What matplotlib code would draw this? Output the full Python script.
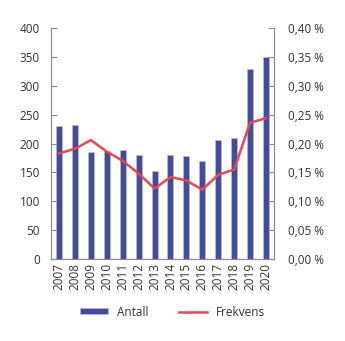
import matplotlib.pyplot as plt
from matplotlib.lines import Line2D
from matplotlib.patches import Patch

years = [str(y) for y in range(2007, 2021)]
antall = [231, 233, 185, 187, 189, 181, 153, 181, 178, 169, 206, 209, 329, 350]
frekvens = [0.183, 0.191, 0.206, 0.186, 0.170, 0.148, 0.122, 0.142, 0.136, 0.120, 0.146, 0.155, 0.236, 0.244]

left_ticks = [0, 50, 100, 150, 200, 250, 300, 350, 400]
right_ticks = [0.0, 0.05, 0.10, 0.15, 0.20, 0.25, 0.30, 0.35, 0.40]

bar_color = "#434c9b"
line_color = "#e8474f"
text_color = "#333333"
spine_color = "#8c8c8c"

plt.rcParams["font.family"] = ["Open Sans", "DejaVu Sans"]
plt.rcParams["font.size"] = 8

fig = plt.figure(figsize=(3.45, 3.41), dpi=100)
ax = fig.add_axes([0.148, 0.2405, 0.646, 0.677])
ax2 = ax.twinx()

x = list(range(len(years)))
ax.bar(x, antall, width=0.38, color=bar_color, edgecolor="#b9bde0", linewidth=0.4, zorder=2)
ax2.plot(x, frekvens, color=line_color, linewidth=1.8, zorder=3)

ax.set_xlim(-0.5, len(years) - 0.5)
ax.set_ylim(0, 400)
ax2.set_ylim(0, 0.40)
ax.set_yticks(left_ticks)
ax2.set_yticks(right_ticks)
ax2.set_yticklabels([f"{v:.2f} %".replace(".", ",") for v in right_ticks])
ax.set_xticks(x)
ax.set_xticklabels(years, rotation=90)

for a in (ax, ax2):
    a.spines["top"].set_visible(False)
    for side in ("left", "right", "bottom"):
        a.spines[side].set_color(spine_color)
        a.spines[side].set_linewidth(0.8)
    a.tick_params(axis="y", direction="in", length=4, width=0.8, color=spine_color,
                  labelcolor=text_color, labelsize=8.5, pad=8)
ax.tick_params(axis="x", length=0, labelcolor=text_color, labelsize=8.5, pad=3)
ax2.tick_params(axis="y", pad=10)

handles = [Patch(facecolor=bar_color, edgecolor="#b9bde0", linewidth=0.4),
           Line2D([0], [0], color=line_color, linewidth=1.8)]
fig.legend(handles, ["Antall", "Frekvens"], loc="center", bbox_to_anchor=(0.5, 0.085),
           ncol=2, frameon=False, fontsize=8.5, handlelength=2.4, handleheight=0.45,
           handletextpad=0.75, columnspacing=2.6, labelcolor=text_color)

fig.savefig("out.png", dpi=100)
